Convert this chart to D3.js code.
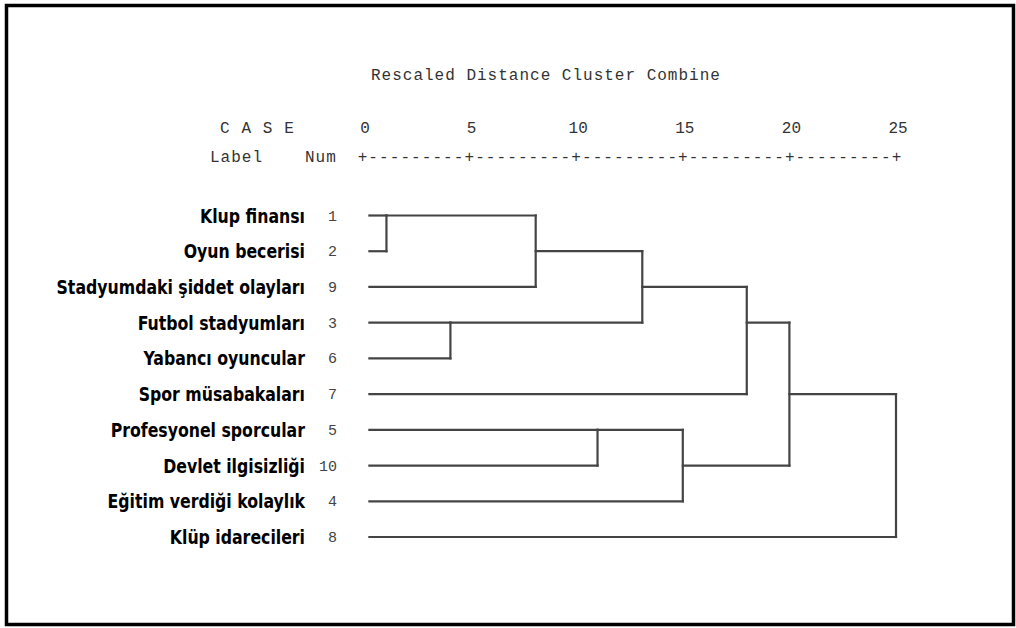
<!DOCTYPE html>
<html>
<head>
<meta charset="utf-8">
<script src="https://cdn.jsdelivr.net/npm/d3@7/dist/d3.min.js"></script>
<style>
  body { margin: 0; background: #fff; }
  .mono { font-family: "Liberation Mono", "DejaVu Sans Mono", monospace; fill: #333; }
  .leaf { font-family: "Liberation Sans Narrow", "DejaVu Sans Condensed", sans-serif; font-weight: bold; fill: #000; }
</style>
</head>
<body>
<div id="chart"></div>
<script>
//////////////////////// Data ////////////////////////////

// leaves in the order they are drawn, top to bottom
var caseNames = ["Klup finansı", "Oyun becerisi", "Stadyumdaki şiddet olayları",
                 "Futbol stadyumları", "Yabancı oyuncular", "Spor müsabakaları",
                 "Profesyonel sporcular", "Devlet ilgisizliği", "Eğitim verdiği kolaylık",
                 "Klüp idarecileri"];
var caseNums  = ["1", "2", "9", "3", "6", "7", "5", "10", "4", "8"];

// agglomeration steps: "mN" = cluster made at step N
var mergeLeft  = ["1", "m0", "3", "m1", "m3", "5",  "m5", "m4", "m7"];
var mergeRight = ["2", "9",  "6", "m2", "7",  "10", "4",  "m6", "8"];
var mergeDist  = [1.1, 8.1, 4.1, 13.1, 18.0, 11.0, 15.0, 20.0, 25.0];

var tickValues = [0, 5, 10, 15, 20, 25];
var leafStart = 0.3;

//////////////////////// Set-Up ////////////////////////////

var W = 1016, H = 628;

var svg = d3.select("#chart").append("svg")
    .attr("width", W)
    .attr("height", H);

var x = d3.scaleLinear().domain([0, 25]).range([363, 896]);
var y = d3.scalePoint().domain(d3.range(caseNums.length)).range([215.5, 537]);

// frame
svg.append("rect")
    .attr("x", 6.5).attr("y", 5.5)
    .attr("width", 1007).attr("height", 619)
    .style("fill", "none")
    .style("stroke", "#000")
    .style("stroke-width", 3.5);

//////////////////////// Header ////////////////////////////

svg.append("text")
    .attr("class", "mono")
    .attr("x", 371).attr("y", 80)
    .style("font-size", "16px")
    .style("letter-spacing", "1px")
    .text("Rescaled Distance Cluster Combine");

svg.append("text")
    .attr("class", "mono")
    .attr("x", 220).attr("y", 133)
    .style("font-size", "16px")
    .style("letter-spacing", "1.1px")
    .text("C A S E");

svg.append("text")
    .attr("class", "mono")
    .attr("x", 210).attr("y", 162)
    .style("font-size", "16px")
    .style("letter-spacing", "1px")
    .text("Label");

svg.append("text")
    .attr("class", "mono")
    .attr("x", 305).attr("y", 162)
    .style("font-size", "16px")
    .style("letter-spacing", "1px")
    .text("Num");

svg.selectAll("text.tick")
    .data(tickValues)
    .enter().append("text")
    .attr("class", "mono tick")
    .attr("x", function(d) { return x(d) + 2; })
    .attr("y", 133)
    .style("font-size", "16px")
    .style("text-anchor", "middle")
    .text(function(d) { return d; });

// the "+---------+" ruler
var ruler = "+";
tickValues.slice(1).forEach(function() { ruler += "---------+"; });
var charW = (x(5) - x(0)) / 10;
svg.append("text")
    .attr("class", "mono")
    .attr("x", x(0) - charW / 2)
    .attr("y", 162)
    .attr("textLength", x(25) - x(0) + charW)
    .attr("lengthAdjust", "spacing")
    .style("font-size", "16px")
    .text(ruler);

//////////////////////// Leaves ////////////////////////////

svg.selectAll("text.leaf")
    .data(caseNames)
    .enter().append("text")
    .attr("class", "leaf")
    .attr("transform", function(d, i) { return "translate(305," + (y(i) + 7) + ") scale(0.875,1)"; })
    .style("font-size", "20px")
    .style("text-anchor", "end")
    .text(function(d) { return d; });

svg.selectAll("text.num")
    .data(caseNums)
    .enter().append("text")
    .attr("class", "mono num")
    .attr("x", 337)
    .attr("y", function(d, i) { return y(i) + 5; })
    .style("font-size", "15px")
    .style("fill", "#444")
    .style("text-anchor", "end")
    .text(function(d) { return d; });

//////////////////////// Dendrogram ////////////////////////////

var nodes = {};
caseNums.forEach(function(c, i) { nodes[c] = { row: i, dist: leafStart }; });

var segs = [];
mergeDist.forEach(function(dist, i) {
  var a = nodes[mergeLeft[i]], b = nodes[mergeRight[i]];
  segs.push([a.dist, a.row, dist, a.row]);
  segs.push([b.dist, b.row, dist, b.row]);
  segs.push([dist, Math.min(a.row, b.row), dist, Math.max(a.row, b.row)]);
  nodes["m" + i] = { row: Math.floor((a.row + b.row) / 2), dist: dist };
});

svg.selectAll("line.link")
    .data(segs)
    .enter().append("line")
    .attr("class", "link")
    .attr("x1", function(d) { return x(d[0]); })
    .attr("y1", function(d) { return y(d[1]); })
    .attr("x2", function(d) { return x(d[2]); })
    .attr("y2", function(d) { return y(d[3]); })
    .style("stroke", "#444")
    .style("stroke-width", 2.2)
    .style("stroke-linecap", "square");
</script>
</body>
</html>
